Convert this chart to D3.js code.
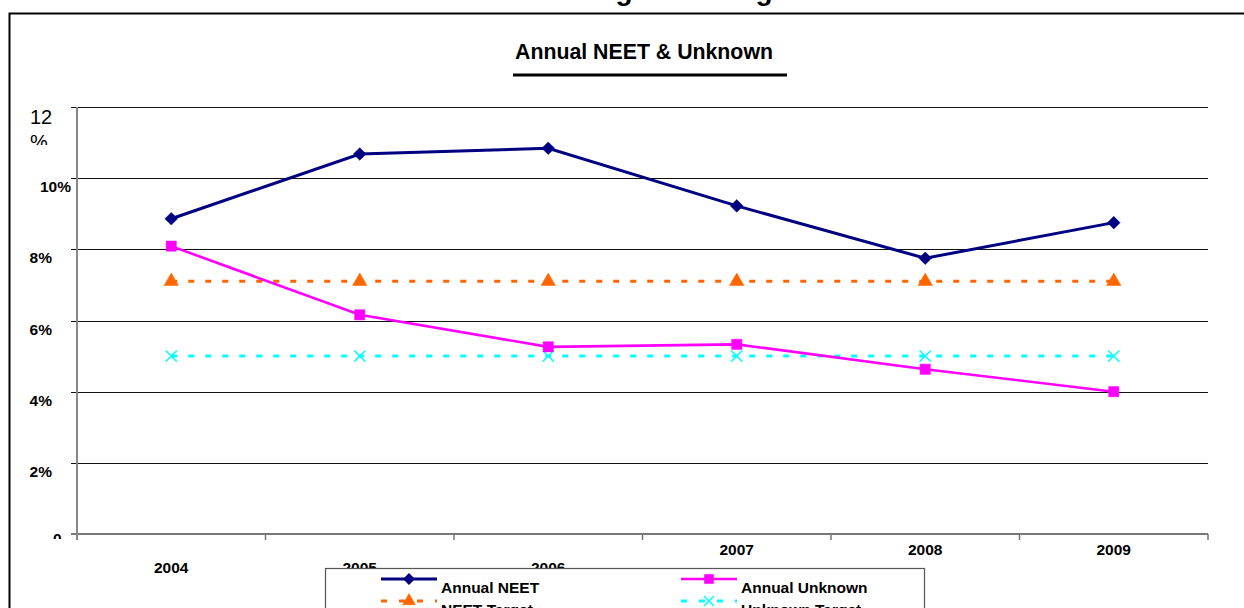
<!DOCTYPE html>
<html><head><meta charset="utf-8">
<script src="https://cdn.jsdelivr.net/npm/d3@7"></script>
<style>html,body{margin:0;padding:0;background:#fff;overflow:hidden}svg{display:block}</style>
</head><body>
<script>
const years = ["2004","2005","2006","2007","2008","2009"];
const annualNEET = [8.86, 10.68, 10.84, 9.22, 7.75, 8.75];
const annualUnknown = [8.09, 6.16, 5.26, 5.33, 4.63, 4.0];
const neetTarget = [7.1, 7.1, 7.1, 7.1, 7.1, 7.1];
const unknownTarget = [5.0, 5.0, 5.0, 5.0, 5.0, 5.0];
const yTicks = [0, 2, 4, 6, 8, 10, 12];
const yTickLabels = ["0", "2%", "4%", "6%", "8%", "10%", "12 %"];
const chartTitle = "Annual NEET & Unknown";
const pageTitle = "NEET Targets & Progress";

const W = 1244, H = 608;
const svg = d3.select("body").append("svg").attr("width", W).attr("height", H);
const FONT = "Liberation Sans, Arial, sans-serif";

// page heading (mostly off-screen)
svg.append("text").attr("x", 661).attr("y", -0.5).attr("text-anchor", "middle")
  .attr("font-family", FONT).attr("font-weight", "bold").attr("font-size", 28)
  .text(pageTitle);

// outer frame
svg.append("rect").attr("x", 9.5).attr("y", 13.5).attr("width", 1240).attr("height", 700)
  .attr("fill", "#fff").attr("stroke", "#000").attr("stroke-width", 2);

// chart title
svg.append("text").attr("x", 644).attr("y", 59).attr("text-anchor", "middle")
  .attr("font-family", FONT).attr("font-weight", "bold").attr("font-size", 21.3)
  .text(chartTitle);
svg.append("line").attr("x1", 513).attr("x2", 787).attr("y1", 75).attr("y2", 75)
  .attr("stroke", "#000").attr("stroke-width", 3);

const x = d3.scaleBand().domain(years).range([77, 1208]).padding(0);
const y = d3.scaleLinear().domain([0, 12]).range([534, 107]);
const cx = d => x(d) + x.bandwidth() / 2;

// gridlines
svg.append("g").selectAll("line").data(yTicks.filter(t => t > 0)).join("line")
  .attr("x1", 71).attr("x2", 1208)
  .attr("y1", d => Math.round(y(d)) + 0.5).attr("y2", d => Math.round(y(d)) + 0.5)
  .attr("stroke", "#111").attr("stroke-width", 1.2);

// x axis
const xAxis = svg.append("g").attr("transform", `translate(0,${Math.round(y(0))})`);
xAxis.append("line").attr("x1", 71).attr("x2", 1208).attr("stroke", "#777").attr("stroke-width", 2);
const bounds = years.map(d => x(d) + x.bandwidth()).concat([x(years[0])]);
xAxis.selectAll("line.t").data(bounds).join("line").attr("class", "t")
  .attr("x1", d => d).attr("x2", d => d).attr("y1", 0).attr("y2", 6)
  .attr("stroke", "#777").attr("stroke-width", 1.5);

// y axis
svg.append("line").attr("x1", 77).attr("x2", 77).attr("y1", y(12)).attr("y2", y(0) + 6)
  .attr("stroke", "#888").attr("stroke-width", 2);

// y labels
const defs = svg.append("defs");
defs.append("clipPath").attr("id", "ylabClip").append("rect")
  .attr("x", 0).attr("y", 100).attr("width", 76).attr("height", 439);
defs.append("clipPath").attr("id", "topClip").append("rect")
  .attr("x", 0).attr("y", 100).attr("width", 76).attr("height", 45);
const yl = svg.append("g").attr("clip-path", "url(#ylabClip)")
  .attr("font-family", FONT).attr("font-weight", "bold").attr("font-size", 15.5);
yTicks.forEach((t, i) => {
  if (t === 12) return;
  const xr = t === 10 ? 71 : 52;
  yl.append("text").attr("x", t === 0 ? 53 : xr).attr("y", y(t) + (t === 0 ? 10 : 14))
    .attr("text-anchor", t === 0 ? "start" : "end").text(yTickLabels[i]);
});
// wrapped "12 %" label, normal weight, larger
const top12 = svg.append("text").attr("clip-path", "url(#topClip)")
  .attr("font-family", FONT).attr("font-size", 20).attr("x", 30);
const parts = yTickLabels[6].split(" ");
top12.append("tspan").attr("x", 30).attr("y", 124).text(parts[0]);
top12.append("tspan").attr("x", 30).attr("y", 149).text(parts[1]);

// x labels (staggered)
svg.append("g").attr("font-family", FONT).attr("font-weight", "bold").attr("font-size", 15.5)
  .selectAll("text").data(years).join("text")
  .attr("x", d => cx(d)).attr("y", (d, i) => i < 3 ? 573 : 555)
  .attr("text-anchor", "middle").text(d => d);

// series
const line = d3.line().x((d, i) => cx(years[i])).y(d => y(d));
const series = [
  {name: "Annual NEET", data: annualNEET, color: "#000080", width: 3, dash: null, sym: d3.symbolSquare, rot: 45, size: 80, fill: true},
  {name: "Annual Unknown", data: annualUnknown, color: "#FF00FF", width: 2.6, dash: null, sym: d3.symbolSquare, rot: 0, size: 105, fill: true},
  {name: "NEET Target", data: neetTarget, color: "#FF6600", width: 3, dash: "6,11", sym: d3.symbolTriangle, rot: 0, size: 90, fill: true},
  {name: "Unknown Target", data: unknownTarget, color: "#00FFFF", width: 3, dash: "6,11", sym: d3.symbolTimes, rot: 0, size: 85, fill: false}
];
const drawOrder = [2, 3, 0, 1];
drawOrder.forEach(k => {
  const s = series[k];
  svg.append("path").attr("d", line(s.data)).attr("fill", "none")
    .attr("stroke", s.color).attr("stroke-width", s.width)
    .attr("stroke-dasharray", s.dash);
});
drawOrder.forEach(k => {
  const s = series[k];
  svg.append("g").selectAll("path").data(s.data).join("path")
    .attr("transform", (d, i) => `translate(${cx(years[i])},${y(d)}) rotate(${s.rot})`)
    .attr("d", d3.symbol().type(s.sym).size(s.size))
    .attr("fill", s.fill ? s.color : "none")
    .attr("stroke", s.color).attr("stroke-width", s.fill ? 0.5 : 1.5);
});

// legend
const lg = svg.append("g");
lg.append("rect").attr("x", 325.5).attr("y", 568.5).attr("width", 599).attr("height", 80)
  .attr("fill", "#fff").attr("stroke", "#555").attr("stroke-width", 1.2);
const legPos = [[381, 579], [681, 579], [381, 601], [681, 601]];
const legIdx = [0, 1, 2, 3];
legIdx.forEach((k, j) => {
  const s = series[k];
  const [lx, ly] = legPos[j];
  lg.append("line").attr("x1", lx).attr("x2", lx + 56).attr("y1", ly).attr("y2", ly)
    .attr("stroke", s.color).attr("stroke-width", s.width).attr("stroke-dasharray", s.dash ? "6,12" : null);
  lg.append("path").attr("transform", `translate(${lx + 28},${ly}) rotate(${s.rot})`)
    .attr("d", d3.symbol().type(s.sym).size(s.size * 0.8))
    .attr("fill", s.fill ? s.color : "none").attr("stroke", s.color).attr("stroke-width", s.fill ? 0.5 : 1.5);
  lg.append("text").attr("x", lx + 60).attr("y", ly + 14)
    .attr("font-family", FONT).attr("font-weight", "bold").attr("font-size", 15.5).text(s.name);
});
</script>
</body></html>
